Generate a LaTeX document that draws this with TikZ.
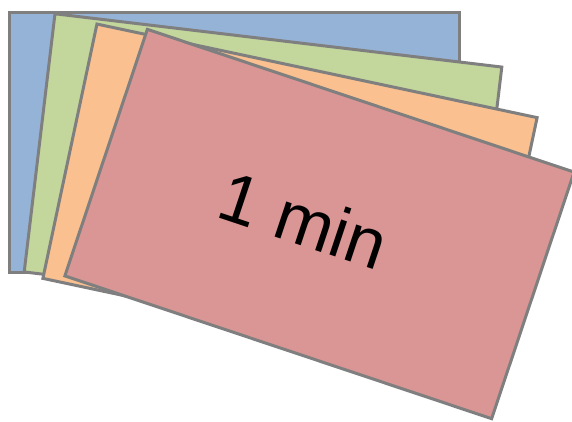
\documentclass[tikz,border=0pt]{standalone}
\usepackage{fontspec}
\setmainfont{Liberation Sans}
\definecolor{cblue}{HTML}{95B3D7}
\definecolor{cgreen}{HTML}{C3D69B}
\definecolor{corange}{HTML}{FAC090}
\definecolor{cred}{HTML}{D99694}
\definecolor{cborder}{HTML}{7F7F7F}
\begin{document}
\begin{tikzpicture}[x=1pt,y=-1pt,
  card/.style={draw=cborder, line width=3pt, inner sep=0pt,
    minimum width=450pt, minimum height=260pt, line join=miter}]
\useasboundingbox (0,0) rectangle (572,421);
\node[card, fill=cblue] (blue) at (234.5,142.5) {};
\node[card, fill=cgreen, rotate=-6.8] (green) at (263,169.5) {};
\node[card, fill=corange, rotate=-12] (orange) at (290,198) {};
\node[card, fill=cred, rotate=-18.5] (red) at (319.5,224) {};
\node[rotate=-18.5, font=\fontsize{70}{84}\selectfont, inner sep=0pt] (label) at (304,220) {1 min};
\end{tikzpicture}
\end{document}
